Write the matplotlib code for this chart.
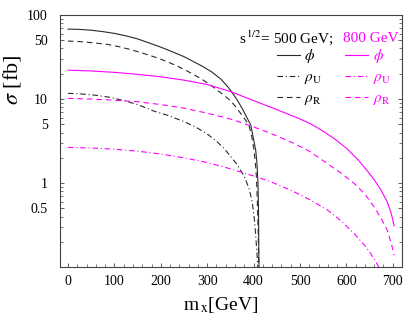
import numpy as np
import matplotlib
matplotlib.use("Agg")
import matplotlib.pyplot as plt
from matplotlib.lines import Line2D
from matplotlib.ticker import FixedLocator, MultipleLocator, LogLocator, NullFormatter

plt.rcParams["font.family"] = ["Liberation Serif", "DejaVu Serif"]
plt.rcParams["mathtext.fontset"] = "stix"

# =========================================================
# DATA
# =========================================================

# sqrt(s) = 500 GeV
x_phi_500 = [0, 25, 50, 75, 100, 125, 150, 175, 200, 225, 250, 270, 290, 310, 330,
             345, 355, 365, 375, 385, 394, 398, 401, 404.5, 407, 409.5, 410.5, 411, 411.6]
y_phi_500 = [68, 67.5, 66, 63.5, 60.5, 56.5, 52, 46.5, 41.5, 36.5, 32, 28, 24.5, 21, 17.2,
             13.9, 11.7, 9.7, 7.8, 6.1, 4.9, 3.8, 3.1, 2.47, 1.8, 1.0, 0.5, 0.25, 0.1]

x_rhoR_500 = [0, 25, 50, 85, 110, 135, 160, 185, 210, 235, 260, 286, 305, 320, 335,
              349, 360, 370, 380, 390, 396, 401, 404, 406, 408, 410, 411.3]
y_rhoR_500 = [49, 48.3, 47, 44.8, 42, 38.8, 35.3, 31.9, 28.4, 24.8, 21.1, 17.6, 15, 13, 11.2,
              9.7, 8.3, 7.0, 5.9, 4.9, 3.6, 2.47, 1.7, 1.2, 0.63, 0.25, 0.1]

x_rhoU_500 = [0, 30, 60, 90, 120, 150, 185, 215, 250, 275, 300, 320, 336, 350, 365,
              380, 390, 397, 402, 405, 407.5, 409]
y_rhoU_500 = [11.7, 11.5, 11.1, 10.5, 9.6, 8.6, 7.2, 6.4, 5.4, 4.65, 3.85, 3.15, 2.6, 2.1, 1.65,
              1.2, 0.87, 0.6, 0.36, 0.22, 0.14, 0.1]

# sqrt(s) = 800 GeV
x_phi_800 = [0, 50, 100, 150, 200, 250, 300, 350, 400, 450, 500, 525, 550, 575, 600,
             625, 645, 660, 675, 688, 697, 703]
y_phi_800 = [22.1, 21.6, 20.8, 19.7, 18.4, 16.8, 14.9, 12.3, 9.6, 7.5, 5.8, 5.0, 4.15, 3.35, 2.6,
             1.9, 1.4, 1.1, 0.82, 0.6, 0.43, 0.31]

x_rhoR_800 = [0, 50, 100, 150, 200, 250, 300, 350, 394, 430, 460, 487, 520, 559, 590,
              617, 640, 660, 675, 688, 697, 703]
y_rhoR_800 = [10.2, 10.0, 9.7, 9.3, 8.6, 7.8, 6.8, 5.8, 4.8, 4.05, 3.45, 2.97, 2.4, 1.71, 1.3,
              0.99, 0.74, 0.52, 0.38, 0.276, 0.19, 0.139]

x_rhoU_800 = [0, 50, 100, 150, 200, 250, 300, 350, 412, 437, 487, 520, 559, 590, 617,
              640, 652, 662, 670]
y_rhoU_800 = [2.66, 2.62, 2.53, 2.4, 2.22, 2.0, 1.76, 1.48, 1.16, 1.04, 0.79, 0.64, 0.48, 0.35, 0.25,
              0.18, 0.146, 0.12, 0.1]

ytick_vals = [0.5, 1, 5, 10, 50, 100]
ytick_labels = ["0.5", "1", "5", "10", "50", "100"]

# =========================================================
# STYLE
# =========================================================

BLACK = "#2a2a2a"
PINK = "#ff00ff"
LW = 0.8
SOLID = "-"
DASHED = (0, (5, 3.5))
DASHDOT = (0, (5, 2.5, 1, 2.5))

fig = plt.figure(figsize=(4.09, 3.27), dpi=100)
ax = fig.add_axes([0.147, 0.183, 0.836, 0.771])

ax.plot(x_phi_500, y_phi_500, color=BLACK, lw=LW, ls=SOLID)
ax.plot(x_rhoU_500, y_rhoU_500, color=BLACK, lw=LW, ls=DASHDOT)
ax.plot(x_rhoR_500, y_rhoR_500, color=BLACK, lw=LW, ls=DASHED)
ax.plot(x_phi_800, y_phi_800, color=PINK, lw=LW, ls=SOLID)
ax.plot(x_rhoU_800, y_rhoU_800, color=PINK, lw=LW, ls=DASHDOT)
ax.plot(x_rhoR_800, y_rhoR_800, color=PINK, lw=LW, ls=DASHED)

ax.set_yscale("log")
ax.set_xlim(-17, 720)
ax.set_ylim(0.1, 100)

ax.xaxis.set_major_locator(MultipleLocator(100))
ax.xaxis.set_minor_locator(MultipleLocator(20))
ax.yaxis.set_major_locator(FixedLocator(ytick_vals))
ax.set_yticklabels(ytick_labels)
ax.yaxis.set_minor_locator(LogLocator(base=10, subs=np.arange(2, 10)))
ax.yaxis.set_minor_formatter(NullFormatter())

ax.tick_params(which="both", direction="in", right=True, top=False,
               labelsize=10, colors="#444444", labelcolor="black")
ax.tick_params(which="major", length=3, width=0.6)
ax.tick_params(which="minor", length=2, width=0.5)
ax.tick_params(axis="y", which="major", pad=9)
ax.tick_params(axis="x", which="major", pad=6)
for s in ax.spines.values():
    s.set_linewidth(0.8)
    s.set_color("#444444")

ax.set_xlabel(r"m$_{\,\mathrm{x}}$[GeV]", fontsize=14)
ax.set_ylabel(r"$\sigma$ [fb]", fontsize=16)
ax.xaxis.set_label_coords(0.468, -0.112)
ax.yaxis.set_label_coords(-0.108, 0.742)

# legend
handles = [
    Line2D([], [], color=BLACK, lw=LW, ls=SOLID),
    Line2D([], [], color=BLACK, lw=LW, ls=DASHDOT),
    Line2D([], [], color=BLACK, lw=LW, ls=DASHED),
    Line2D([], [], color=PINK, lw=LW, ls=SOLID),
    Line2D([], [], color=PINK, lw=LW, ls=DASHDOT),
    Line2D([], [], color=PINK, lw=LW, ls=DASHED),
]
labels = [r"$\phi$", r"$\rho_{\rm U}$", r"$\rho_{\rm R}$"] * 2
ax.legend(handles, labels, ncol=2, frameon=False, fontsize=11,
          loc="upper left", bbox_to_anchor=(0.634, 0.872),
          borderaxespad=0, borderpad=0,
          handlelength=1.5, handletextpad=0.3, columnspacing=1.5,
          labelspacing=0.35, labelcolor=["black"] * 3 + [PINK] * 3)

ax.text(0.522, 0.908, r"s$^{\,1/2}$= 500 GeV;", transform=ax.transAxes,
        fontsize=11, va="center", ha="left")
ax.text(0.827, 0.908, "800 GeV", transform=ax.transAxes,
        fontsize=11, va="center", ha="left", color=PINK)

fig.savefig("out.png", dpi=100)
